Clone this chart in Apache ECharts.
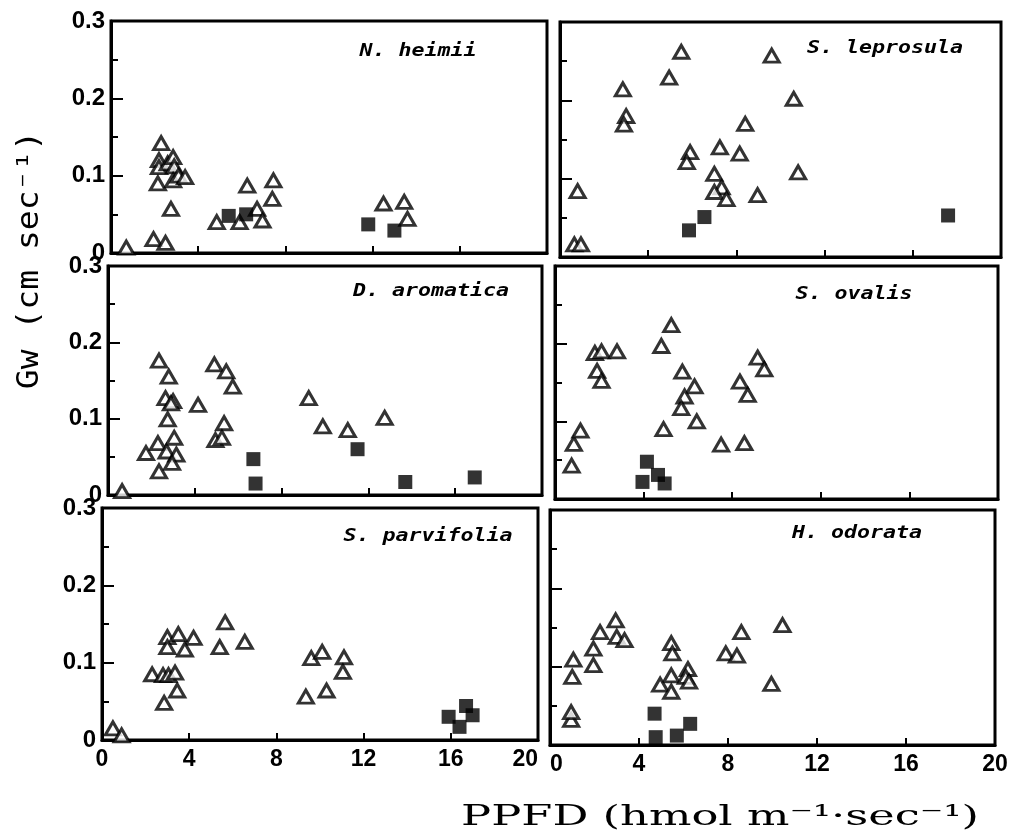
<!DOCTYPE html>
<html><head><meta charset="utf-8">
<script src="https://cdn.jsdelivr.net/npm/echarts@6/dist/echarts.min.js"></script>
<style>html,body{margin:0;padding:0;background:#fff}#c{width:1014px;height:836px}</style>
</head><body><div id="c"></div><script>
// x: PPFD, y: Gw ; open = triangles, closed = filled squares
const heimiiOpen = [[0.7,0.007],[1.95,0.018],[2.5,0.013],[2.3,0.142],[2.2,0.12],[2.2,0.111],[2.6,0.116],[2.85,0.124],[2.9,0.112],[2.15,0.09],[2.85,0.094],[3.1,0.1],[3.4,0.098],[2.75,0.057],[4.85,0.04],[5.9,0.04],[6.25,0.087],[6.7,0.057],[6.95,0.042],[7.45,0.094],[7.4,0.07],[12.5,0.064],[13.45,0.066],[13.6,0.044]];
const heimiiClosed = [[5.4,0.048],[6.2,0.05],[11.8,0.037],[13.0,0.029]];
const leprosulaOpen = [[0.8,0.084],[0.65,0.016],[0.95,0.016],[2.85,0.214],[3.0,0.18],[2.9,0.169],[4.95,0.229],[5.5,0.262],[9.6,0.257],[10.6,0.202],[8.4,0.17],[7.25,0.14],[8.15,0.132],[5.9,0.134],[5.75,0.121],[7.0,0.106],[10.8,0.108],[7.33,0.089],[7.0,0.083],[7.55,0.074],[8.96,0.079]];
const leprosulaClosed = [[6.55,0.051],[5.85,0.034],[17.6,0.053]];
const aromaticaOpen = [[0.65,0.005],[2.35,0.176],[2.8,0.155],[2.65,0.127],[3.0,0.123],[2.9,0.12],[4.15,0.118],[2.75,0.099],[4.9,0.171],[5.45,0.162],[5.75,0.142],[5.35,0.094],[4.95,0.072],[5.25,0.075],[1.75,0.055],[2.3,0.068],[2.7,0.057],[3.05,0.075],[3.15,0.053],[2.95,0.042],[2.35,0.031],[9.25,0.127],[9.9,0.09],[11.05,0.085],[12.75,0.101]];
const aromaticaClosed = [[6.7,0.047],[6.8,0.015],[11.5,0.06],[13.7,0.017],[16.9,0.023]];
const ovalisOpen = [[0.75,0.043],[0.85,0.071],[1.15,0.088],[1.8,0.188],[2.1,0.19],[2.8,0.19],[1.9,0.165],[2.1,0.152],[4.8,0.197],[5.25,0.224],[4.9,0.09],[5.75,0.164],[6.3,0.145],[5.85,0.132],[5.7,0.117],[6.4,0.1],[9.15,0.182],[9.45,0.167],[8.35,0.151],[8.7,0.134],[7.5,0.07],[8.55,0.072]];
const ovalisClosed = [[4.15,0.048],[3.95,0.022],[4.65,0.031],[4.95,0.02]];
const parvifoliaOpen = [[0.5,0.015],[0.9,0.006],[2.3,0.085],[2.8,0.084],[3.05,0.084],[3.35,0.087],[2.85,0.048],[3.45,0.064],[3.0,0.133],[3.5,0.137],[4.2,0.132],[3.0,0.12],[3.8,0.117],[5.65,0.152],[5.4,0.12],[6.55,0.127],[9.35,0.056],[9.6,0.106],[10.1,0.114],[10.3,0.064],[11.1,0.107],[11.05,0.088]];
const parvifoliaClosed = [[15.9,0.03],[16.7,0.044],[17.0,0.032],[16.4,0.017]];
const odorataOpen = [[0.95,0.032],[0.95,0.042],[1.0,0.087],[1.05,0.109],[1.95,0.123],[1.95,0.102],[2.25,0.144],[2.95,0.159],[3.0,0.138],[3.35,0.134],[5.45,0.13],[5.5,0.117],[5.45,0.089],[4.95,0.077],[5.45,0.068],[6.2,0.097],[6.1,0.087],[6.25,0.081],[8.6,0.144],[10.45,0.153],[7.9,0.117],[8.4,0.114],[9.95,0.078]];
const odorataClosed = [[4.7,0.04],[4.75,0.01],[5.7,0.012],[6.3,0.027]];

const speciesNames = ['N. heimii','S. leprosula','D. aromatica','S. ovalis','S. parvifolia','H. odorata'];
const xTicks = [0,4,8,12,16,20];
const yTicks = [0,0.1,0.2,0.3];
const yTitle = 'Gw (cm sec\u207B\u00B9)';
const xTitle = 'PPFD (hmol m\u207B\u00B9\u00B7sec\u207B\u00B9)';

const openSets = [heimiiOpen, leprosulaOpen, aromaticaOpen, ovalisOpen, parvifoliaOpen, odorataOpen];
const closedSets = [heimiiClosed, leprosulaClosed, aromaticaClosed, ovalisClosed, parvifoliaClosed, odorataClosed];

const grids = [
  {left:111, top:21, width:436, height:232},
  {left:560, top:22, width:441, height:235},
  {left:108, top:266, width:434, height:229},
  {left:555, top:266, width:443, height:233},
  {left:102, top:508, width:436, height:232},
  {left:550, top:510, width:445, height:235}
];
const nameCenters = [[418,51],[885,48],[431,291],[854,294],[428,536],[857,533]];

const chart = echarts.init(document.getElementById('c'));
const xAxes = [], yAxes = [], series = [], graphic = [];
grids.forEach((g, i) => {
  const leftCol = i % 2 === 0, bottom = i >= 4;
  xAxes.push({
    gridIndex: i, type: 'value', min: xTicks[0], max: xTicks[xTicks.length-1], interval: 4,
    axisLine: {show: true, onZero: false, lineStyle: {color: '#000', width: 3}},
    axisTick: {show: true, inside: true, length: 7, lineStyle: {color: '#000', width: 2}},
    axisLabel: {show: bottom, color: '#000', fontWeight: 'bold', fontSize: 23, fontFamily: 'Liberation Sans', margin: 8,
      showMinLabel: true, showMaxLabel: true,
      alignMinLabel: leftCol ? 'center' : 'left', alignMaxLabel: leftCol ? 'right' : 'center'},
    splitLine: {show: false}
  });
  yAxes.push({
    gridIndex: i, type: 'value', min: yTicks[0], max: yTicks[yTicks.length-1], interval: 0.1,
    axisLine: {show: true, onZero: false, lineStyle: {color: '#000', width: 3}},
    axisTick: {show: true, inside: true, length: 12, lineStyle: {color: '#000', width: 2}},
    minorTick: {show: true, splitNumber: 2, length: 7, lineStyle: {color: '#000', width: 2}},
    axisLabel: {show: leftCol, color: '#000', fontWeight: 'bold', fontSize: 24, fontFamily: 'Liberation Sans', margin: 6,
      formatter: v => v === 0 ? '0' : v.toFixed(1)},
    splitLine: {show: false}, minorSplitLine: {show: false}
  });
  series.push({
    type: 'scatter', xAxisIndex: i, yAxisIndex: i, data: openSets[i],
    symbol: 'triangle', symbolSize: [15, 13],
    itemStyle: {color: '#fff', borderColor: '#000', borderWidth: 3}, z: 3
  });
  series.push({
    type: 'scatter', xAxisIndex: i, yAxisIndex: i, data: closedSets[i],
    symbol: 'rect', symbolSize: 14,
    itemStyle: {color: '#000'}, z: 4
  });
  graphic.push({
    type: 'text', x: nameCenters[i][0], y: nameCenters[i][1], scaleX: 1.2,
    style: {text: speciesNames[i], font: 'italic bold 18px "DejaVu Sans Mono"', fill: '#000',
      align: 'center', verticalAlign: 'middle', textAlign: 'center', textVerticalAlign: 'middle'}
  });
});
graphic.push({
  type: 'text', x: 30, y: 260, rotation: Math.PI / 2, scaleX: 1.1,
  style: {text: yTitle, font: '30px "DejaVu Sans Mono"', fill: '#000',
    align: 'center', verticalAlign: 'middle', textAlign: 'center', textVerticalAlign: 'middle'}
});
graphic.push({
  type: 'text', x: 720, y: 818, scaleX: 1.6,
  style: {text: xTitle, font: '28px "DejaVu Serif"', fill: '#000',
    align: 'center', verticalAlign: 'middle', textAlign: 'center', textVerticalAlign: 'middle'}
});

chart.setOption({
  animation: false,
  backgroundColor: '#fff',
  grid: grids.map(g => Object.assign({show: true, borderColor: '#000', borderWidth: 3, backgroundColor: 'transparent', containLabel: false}, g)),
  xAxis: xAxes, yAxis: yAxes, series: series, graphic: graphic
});
</script></body></html>
